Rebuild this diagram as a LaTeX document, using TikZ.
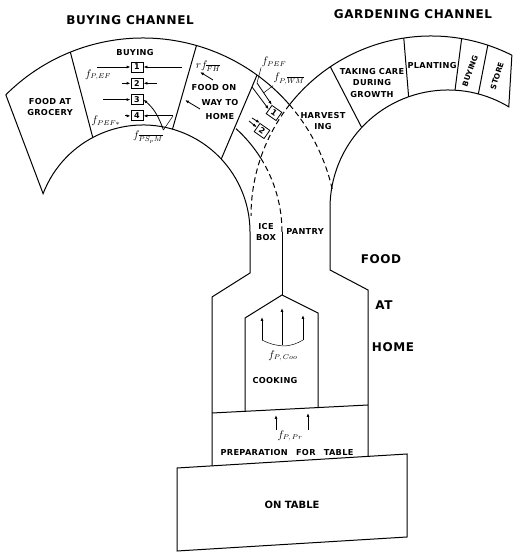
\documentclass[tikz,border=0pt]{standalone}
\usepackage{fontspec}
\setmainfont{DejaVu Sans}
\usetikzlibrary{positioning, arrows.meta, calc}

\begin{document}
\begin{tikzpicture}[x=1pt, y=1pt,
  wall/.style={line width=1pt},
  seam/.style={line width=1pt, dashed, dash pattern=on 5.5pt off 3.5pt},
  lbl/.style={font=\fontsize{8.2}{11.5}\selectfont\bfseries\addfontfeature{LetterSpace=4},
              align=center, inner sep=1pt},
  ttl/.style={font=\fontsize{12}{15}\selectfont\bfseries\addfontfeature{LetterSpace=5}, inner sep=1pt},
  fn/.style={font=\fontsize{10.5}{12}\selectfont, inner sep=0.5pt},
  cell/.style={draw, line width=0.8pt, minimum width=12pt, minimum height=10pt,
               inner sep=0pt, font=\fontsize{8}{9}\selectfont\bfseries},
  flow/.style={-{Latex[length=4pt, width=3pt]}, line width=0.8pt},
  lead/.style={line width=0.5pt}
]
\useasboundingbox (0,0) rectangle (516,553);

% ===== CENTRES AND RADII =====
\coordinate (B)  at (143,321);  % buying channel
\coordinate (Go) at (431,337);  % gardening channel, outer rim
\coordinate (Gi) at (448,345);  % gardening channel, inner rim
\def\bi{107}
\def\bm{139}
\def\bo{194}
\def\go{180}
\def\gi{118}

% ===== BUYING CHANNEL =====
\draw[wall] ($(B)+(135:\bo)$) arc[start angle=135, end angle=41, radius=\bo];
\draw[seam] ($(B)+(41:\bo)$) arc[start angle=41, end angle=12, radius=\bo];
\draw[wall] ($(B)+(135:\bo)$) -- ($(B)+(159:\bi)$)
  arc[start angle=159, end angle=0, radius=\bi] -- ++(0,-41) -- (212,256) -- (212,87);
\foreach \a/\b in {112/118, 74/74, 54/43}
  \draw[wall] ($(B)+(\a:\bo)$) -- ($(B)+(\b:\bi)$);
\draw[wall] ($(B)+(48:\bm)$) arc[start angle=48, end angle=32, radius=\bm];
\draw[seam] ($(B)+(32:\bm)$) arc[start angle=32, end angle=0, radius=\bm];

% ===== GARDENING CHANNEL =====
\draw[wall] ($(Go)+(63.3:\go)$) arc[start angle=63.3, end angle=141.8, radius=\go];
\draw[seam] ($(Go)+(141.8:\go)$) arc[start angle=141.8, end angle=180, radius=\go];
\draw[wall] ($(Go)+(63.3:\go)$) -- ($(Gi)+(59:\gi)$)
  arc[start angle=59, end angle=180, radius=\gi] -- ++(0,-62) -- (368,263) -- (368,97);
\foreach \a/\b in {124/137, 98.7/109.5, 80.2/86.6, 71.6/75.1}
  \draw[wall] ($(Go)+(\a:\go)$) -- ($(Gi)+(\b:\gi)$);

% ===== FOOD AT HOME =====
\coordinate (apex) at (282,258);
\draw[wall] ($(B)+(0:\bm)$) -- (apex);
\draw[wall] (245,141.7) -- (245,235) -- (apex) -- (318,240) -- (318,145.4);
\draw[wall] (212,140) -- (368,148);
\draw[wall] (177,85) -- (407,99) -- (407,16) -- (177,2) -- cycle;

% ===== TITLES =====
\node[ttl] (tbuy) at (130,533) {BUYING CHANNEL};
\node[ttl] (tgar) at (413,539) {GARDENING CHANNEL};

% ===== BUYING CELLS =====
\node[lbl] (groc) at (50,446) {FOOD AT\\GROCERY};
\node[lbl] (buy) at (135,500) {BUYING};
\node[cell] (b1) at (137,486) {1};
\node[cell, below=5.5pt of b1] (b2) {2};
\node[cell, below=5.5pt of b2] (b3) {3};
\node[cell, below=5.5pt of b3] (b4) {4};
\foreach \n/\xl in {b1/97, b2/122, b3/103, b4/125}{
  \coordinate (\n l) at (\xl,0 |- \n);
  \draw[flow] (\n l) -- (\n);
}
\foreach \n/\xr in {b1/182, b2/157, b4/173}{
  \coordinate (\n r) at (\xr,0 |- \n);
  \draw[flow] (\n r) -- (\n);
}
\node[fn] (fpef1) at (98,478) {$f_{P,EF}$};
\node[fn] (fpef2) at (106,432) {$f_{PEF\ast}$};
\node[fn] (fpsm) at (148,416) {$f_{\overline{PS_pM}}$};
\draw[flow] (fpsm.north east) to[out=110, in=-40] (b3.east);
\draw[lead] (fpsm.north east) -- (b4r);

\node[fn] (rffh) at (208,487) {$r f_{\overline{FH}}$};
\coordinate (w1s) at (213,473); \coordinate (w1e) at (200,481);
\coordinate (w2s) at (200,444); \coordinate (w2e) at (185,453);
\draw[flow] (w1s) -- (w1e);
\draw[flow] (w2s) -- (w2e);
\node[lbl] (fw1) at (214,465) {FOOD ON};
\node[lbl] (fw2) at (220,450) {WAY TO};
\node[lbl] (fw3) at (220,436) {HOME};

% ===== ON THE WAY: BOXES 1 AND 2 =====
\node[fn] (fpe) at (274,491) {$f_{PEF}$};
\node[fn] (fpw) at (289,474) {$f_{P,\overline{WM}}$};
\node[cell, rotate=-35] (h1) at (274,440) {1};
\node[cell, rotate=-35] (h2) at (262,422) {2};
\coordinate (a1) at (252,466);
\coordinate (a2) at (257,470);
\draw[flow] (a1) -- (h1.west);
\draw[flow] (a2) -- (h1.north west);
\coordinate (a3) at ($(a2)!0.45!(h1.north west)$);
\draw[lead] (fpe.south west) -- (a2);
\draw[lead] (fpw.south west) -- (a3);
\coordinate (c1) at (249,432);
\coordinate (c2) at (252,435);
\draw[flow] (c1) -- (h2.west);
\draw[flow] (c2) -- (h2.north west);

% ===== GARDENING CELLS =====
\node[lbl] (harv) at (323,432) {HARVEST\\ING};
\node[lbl] (care) at (372,470) {TAKING CARE\\DURING\\GROWTH};
\node[lbl] (plant) at (432,487) {PLANTING};
\node[lbl, font=\fontsize{7.5}{9}\selectfont\bfseries, rotate=70] (gbuy) at (470,482) {BUYING};
\node[lbl, font=\fontsize{7.5}{9}\selectfont\bfseries, rotate=72] (store) at (497,477) {STORE};

% ===== HOME =====
\node[lbl] (ice) at (266,321) {ICE\\BOX};
\node[lbl] (pan) at (305,321) {PANTRY};
\node[ttl] (food) at (381,294) {FOOD};
\node[ttl] (at) at (384,248) {AT};
\node[ttl] (home) at (393,206) {HOME};

\foreach \nm/\x/\ya/\yb in {k1/262/213/236, k2/282/208/245, k3/303/213/238}{
  \coordinate (\nm s) at (\x,\ya);
  \coordinate (\nm e) at (\x,\yb);
  \draw[flow] (\nm s) -- (\nm e);
}
\coordinate (k0) at (285,207);
\draw[lead] (k1s) to[bend right=12] (k0) to[bend right=12] (k3s);
\node[fn] (fco) at (283,197) {$f_{P,\,Coo}$};
\node[lbl] (cook) at (275,172) {COOKING};

\foreach \nm/\x/\ya/\yb in {p1/276/123/138, p2/308/123/140}{
  \coordinate (\nm s) at (\x,\ya);
  \coordinate (\nm e) at (\x,\yb);
  \draw[flow] (\nm s) -- (\nm e);
}
\node[fn] (fpr) at (290,117) {$f_{P,\,Pr}$};
\node[lbl] (prep) at (287,100) {PREPARATION\quad FOR\quad TABLE};
\node[lbl, font=\fontsize{10}{12}\selectfont\bfseries] (tab) at (292,48) {ON TABLE};

\end{tikzpicture}
\end{document}
